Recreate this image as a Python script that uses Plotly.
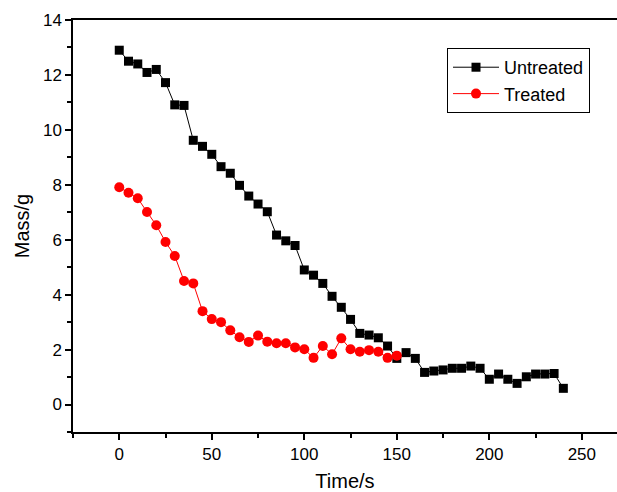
import plotly.graph_objects as go

untreated_t = [0, 5, 10, 15, 20, 25, 30, 35, 40, 45, 50, 55, 60, 65, 70, 75, 80, 85, 90, 95,
               100, 105, 110, 115, 120, 125, 130, 135, 140, 145, 150, 155, 160, 165, 170, 175,
               180, 185, 190, 195, 200, 205, 210, 215, 220, 225, 230, 235, 240]
untreated_m = [12.90, 12.50, 12.40, 12.09, 12.20, 11.72, 10.91, 10.89, 9.62, 9.40, 9.11, 8.66,
               8.42, 7.98, 7.59, 7.30, 7.02, 6.17, 5.96, 5.79, 4.90, 4.71, 4.41, 3.94, 3.54,
               3.10, 2.59, 2.53, 2.43, 2.13, 1.68, 1.89, 1.68, 1.17, 1.22, 1.26, 1.32, 1.32,
               1.40, 1.32, 0.92, 1.11, 0.92, 0.77, 1.01, 1.11, 1.11, 1.13, 0.59]

treated_t = [0, 5, 10, 15, 20, 25, 30, 35, 40, 45, 50, 55, 60, 65, 70, 75, 80, 85, 90, 95,
             100, 105, 110, 115, 120, 125, 130, 135, 140, 145, 150]
treated_m = [7.91, 7.71, 7.51, 7.01, 6.53, 5.92, 5.41, 4.50, 4.41, 3.40, 3.11, 3.00, 2.70,
             2.45, 2.28, 2.51, 2.29, 2.23, 2.23, 2.08, 2.01, 1.70, 2.13, 1.83, 2.41, 2.01,
             1.92, 1.98, 1.92, 1.70, 1.78]

FONT = "Liberation Sans, Arial, sans-serif"

fig = go.Figure()
fig.add_trace(go.Scatter(
    x=untreated_t, y=untreated_m, name="Untreated", mode="lines+markers",
    line=dict(color="black", width=1),
    marker=dict(symbol="square", size=9, color="black"),
))
fig.add_trace(go.Scatter(
    x=treated_t, y=treated_m, name="Treated", mode="lines+markers",
    line=dict(color="#ff0000", width=1),
    marker=dict(symbol="circle", size=10, color="#ff0000"),
))

fig.update_layout(
    width=617, height=492,
    margin=dict(l=73, r=0, t=20, b=60),
    plot_bgcolor="white", paper_bgcolor="white",
    font=dict(family=FONT, color="black", size=17),
    legend=dict(
        x=0.6875, y=0.932, xanchor="left", yanchor="top",
        bordercolor="black", borderwidth=1, bgcolor="white",
        font=dict(size=18, family=FONT), tracegroupgap=0,
        itemwidth=46,
    ),
    showlegend=True,
)
fig.update_xaxes(
    range=[-25, 269], showgrid=False, zeroline=False,
    showline=True, linecolor="black", linewidth=1.5, mirror=True,
    ticks="outside", ticklen=6, tickwidth=1.5, tickcolor="black",
    tickvals=[0, 50, 100, 150, 200, 250],
    minor=dict(tickvals=[-25, 25, 75, 125, 175, 225], ticks="outside", ticklen=4, tickwidth=1.5, tickcolor="black"),
    tickfont=dict(size=17),
    title=dict(text="Time/s", font=dict(size=20), standoff=13),
)
fig.update_yaxes(
    range=[-1, 14], showgrid=False, zeroline=False,
    showline=True, linecolor="black", linewidth=1.5,
    ticks="outside", ticklen=6, tickwidth=1.5, tickcolor="black",
    tickvals=[0, 2, 4, 6, 8, 10, 12, 14],
    minor=dict(tickvals=[-1, 1, 3, 5, 7, 9, 11, 13], ticks="outside", ticklen=4, tickwidth=1.5, tickcolor="black"),
    tickfont=dict(size=17),
    title=dict(text="Mass/g", font=dict(size=20), standoff=8),
)

fig.write_html("out.html")
